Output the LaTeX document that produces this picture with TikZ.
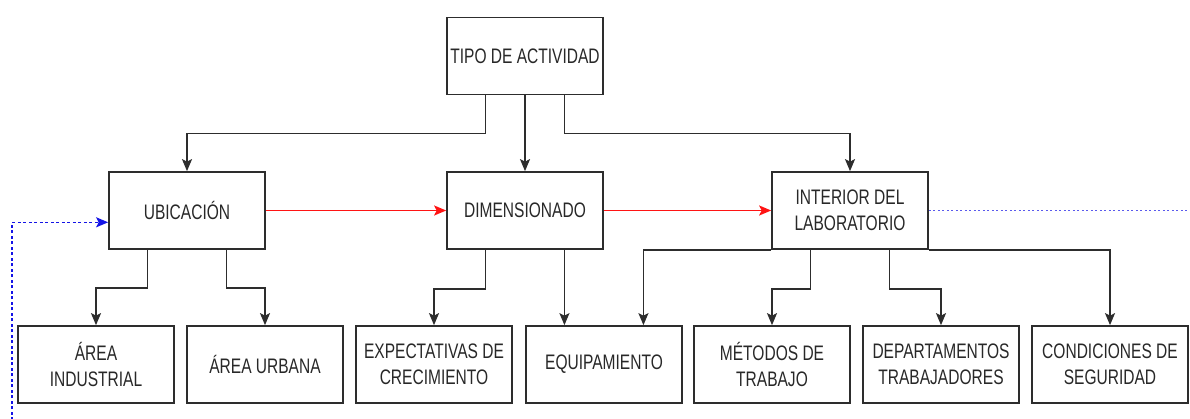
\documentclass[tikz,border=0pt]{standalone}
\usepackage{fontspec}
\setmainfont[FakeStretch=0.74]{Liberation Sans}
\usetikzlibrary{arrows.meta,calc}
\definecolor{txt}{RGB}{40,40,40}
\definecolor{edge}{RGB}{45,45,45}
\definecolor{redl}{RGB}{255,20,20}
\definecolor{bluel}{RGB}{20,20,230}
\begin{document}
\begin{tikzpicture}[x=1pt,y=-1pt,
  box/.style={draw=edge,line width=1.7pt,minimum width=156pt,minimum height=77pt,
    align=center,inner sep=2pt,text=txt,font=\fontsize{21}{26}\selectfont},
  arr/.style={draw=edge,line width=1.6pt,-{Stealth[length=12pt,width=10pt,inset=2.5pt]}},
  redarr/.style={draw=redl,line width=1.6pt,-{Stealth[length=12pt,width=10pt,inset=2.5pt]}},
  bluedot/.style={draw=bluel,line width=1.6pt,dash pattern=on 3pt off 2.5pt}]
\useasboundingbox (0,0) rectangle (1190,418);
\node[box] (tipo) at (525,56) {TIPO DE ACTIVIDAD};
\node[box] (ubi) at (187,210.5) {UBICACIÓN};
\node[box] (dim) at (525,210.5) {DIMENSIONADO};
\node[box] (int) at (850,210.5) {INTERIOR DEL\\LABORATORIO};
\node[box] (ai) at (96,364.5) {ÁREA\\INDUSTRIAL};
\node[box] (au) at (265,364.5) {ÁREA URBANA};
\node[box] (exp) at (434,364.5) {EXPECTATIVAS DE\\CRECIMIENTO};
\node[box] (eq) at (604,364.5) {EQUIPAMIENTO};
\node[box] (met) at (772,364.5) {MÉTODOS DE\\TRABAJO};
\node[box] (dep) at (941,364.5) {DEPARTAMENTOS\\TRABAJADORES};
\node[box] (cond) at (1110,364.5) {CONDICIONES DE\\SEGURIDAD};
% top tree
\draw[arr] ($(tipo.south west)!.25!(tipo.south east)$) -- ++(0,38) -| (ubi.north);
\draw[arr] (tipo.south) -- (dim.north);
\draw[arr] ($(tipo.south west)!.75!(tipo.south east)$) -- ++(0,38) -| (int.north);
% ubicacion
\draw[arr] ($(ubi.south west)!.25!(ubi.south east)$) -- ++(0,38) -| (ai.north);
\draw[arr] ($(ubi.south west)!.75!(ubi.south east)$) -- ++(0,38) -| (au.north);
% dimensionado
\draw[arr] ($(dim.south west)!.25!(dim.south east)$) -- ++(0,39) -| (exp.north);
\coordinate (dimr) at ($(dim.south west)!.75!(dim.south east)$);
\draw[arr] (dimr) -- (dimr |- eq.north);
% interior
\draw[arr] (int.south west) -| ($(eq.north west)!.75!(eq.north east)$);
\draw[arr] ($(int.south west)!.25!(int.south east)$) -- ++(0,39) -| (met.north);
\draw[arr] ($(int.south west)!.75!(int.south east)$) -- ++(0,39) -| (dep.north);
\draw[arr] (int.south east) -| (cond.north);
% red flow
\draw[redarr] (ubi.east) -- (dim.west);
\draw[redarr] (dim.east) -- (int.west);
% blue dotted
\coordinate (bend) at (1190,210.5);
\draw[bluedot,dash pattern=on 2pt off 2.5pt,draw=bluel!70] (int.east) -- (bend);
\coordinate (bstart) at (12,420);
\coordinate (ubil) at ($(ubi.north west)!.65!(ubi.south west)$);
\draw[bluedot,-{Stealth[length=12pt,width=10pt,inset=2.5pt]}] (bstart) |- (ubil);
\end{tikzpicture}
\end{document}
